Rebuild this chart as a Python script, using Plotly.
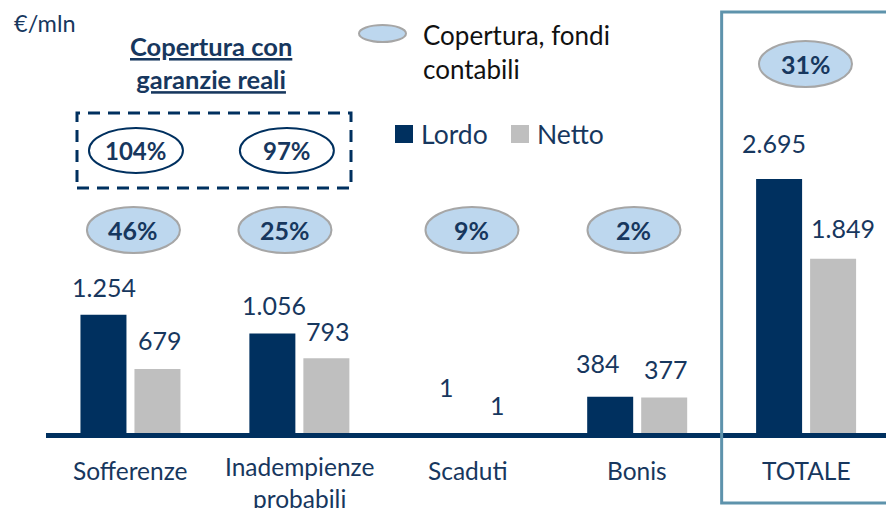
import plotly.graph_objects as go

# ---- data (€/mln) ----
categories = ["Sofferenze", "Inadempienze<br>probabili", "Scaduti", "Bonis", "TOTALE"]
lordo = [1254, 1056, 1, 384, 2695]
netto = [679, 793, 1, 377, 1849]
copertura_fondi = [46, 25, 9, 2, 31]        # % coverage, accounting provisions
copertura_garanzie = [104, 97]              # % coverage incl. real guarantees (first two categories)

# ---- style ----
NAVY = "#00305F"
NAVY_BAR = "rgba(0,48,95,0.999)"
GREY_BAR = "rgba(191,191,191,0.999)"
GREY = "#BFBFBF"
TEXT_NAVY = "#17375E"
OVAL_FILL = "#BDD7EE"
OVAL_LINE = "#A6A6A6"
BOX_LINE = "#5E93AC"
FONT = "Lato"

W, H = 886, 508
ML, MB = 46, 75
PLOT_H = H - MB
XR = [-0.5, 4.473]
YR = [0, 4595]
PPC = (W - ML) / (XR[1] - XR[0])   # pixels per category slot

BAR_PX, GAP_PX = 46, 8
BAR_W = BAR_PX / PPC
OFF_L = -(BAR_PX + GAP_PX / 2) / PPC
OFF_N = (GAP_PX / 2) / PPC


def xp(px):
    return (px - ML) / (W - ML)


def yp(py):
    return (PLOT_H - py) / PLOT_H


def fmt(v):
    return f"{v:,}".replace(",", ".")


def label(**kw):
    base = dict(showarrow=False, xanchor="center", yanchor="middle")
    base.update(kw)
    return base


idx = list(range(len(categories)))

fig = go.Figure()
fig.add_trace(go.Bar(x=idx, y=lordo, width=BAR_W, offset=OFF_L, name="Lordo",
                     marker=dict(color=NAVY_BAR, line_width=0)))
fig.add_trace(go.Bar(x=idx, y=netto, width=BAR_W, offset=OFF_N, name="Netto",
                     marker=dict(color=GREY_BAR, line_width=0)))

annotations = []
shapes = []

# category labels under the axis
cat_y = [470, 482, 470, 470, 470]
for i in idx:
    annotations.append(label(x=i, xref="x", y=yp(cat_y[i]), yref="paper",
                             text=categories[i], align="center",
                             font=dict(family=FONT, size=24.5, color=TEXT_NAVY)))

# value labels above bars (pixel nudges per label)
lordo_nudge = [(1, 28), (1.5, 28), (5, 46), (-12.5, 34), (-5, 36)]
netto_nudge = [(2.5, 29), (1.5, 27), (2, 28), (2, 28), (10, 31)]
for i in idx:
    for vals, off, nudge in ((lordo, OFF_L, lordo_nudge), (netto, OFF_N, netto_nudge)):
        annotations.append(label(
            x=i + off + BAR_W / 2, y=vals[i], xref="x", yref="y",
            xshift=nudge[i][0], yshift=nudge[i][1], text=fmt(vals[i]),
            font=dict(family=FONT, size=25, color=TEXT_NAVY)))

# coverage ovals
oval_dx = [3, -14.4, 3.7, -3.2, -0.6]
oval_y = [230, 230, 230, 230, 64]
for i in idx:
    shapes.append(dict(
        type="circle", xref="x", xsizemode="pixel", xanchor=i,
        x0=oval_dx[i] - 46.5, x1=oval_dx[i] + 46.5,
        yref="paper", ysizemode="pixel", yanchor=yp(oval_y[i]), y0=-23, y1=23,
        fillcolor=OVAL_FILL, line=dict(color=OVAL_LINE, width=2), layer="above"))
    annotations.append(label(
        x=i, xref="x", xshift=oval_dx[i], y=yp(oval_y[i]), yref="paper",
        text=f"<b>{copertura_fondi[i]}%</b>",
        font=dict(family=FONT, size=25, color=TEXT_NAVY)))

# coverage with real guarantees (dashed frame)
g_dx = [5.5, -12.5]
for i, v in enumerate(copertura_garanzie):
    shapes.append(dict(
        type="circle", xref="x", xsizemode="pixel", xanchor=i,
        x0=g_dx[i] - 47, x1=g_dx[i] + 47,
        yref="paper", ysizemode="pixel", yanchor=yp(150.5), y0=-22.5, y1=22.5,
        line=dict(color=NAVY, width=2), layer="above"))
    annotations.append(label(
        x=i, xref="x", xshift=g_dx[i], y=yp(150.5), yref="paper",
        text=f"<b>{v}%</b>",
        font=dict(family=FONT, size=24, color=TEXT_NAVY)))
shapes.append(dict(type="rect", xref="paper", yref="paper",
                   x0=xp(77), x1=xp(351), y0=yp(188), y1=yp(113),
                   line=dict(color=NAVY, width=3, dash="12px,8px")))
annotations.append(label(
    x=xp(211), y=yp(63), xref="paper", yref="paper",
    text="<b><u>Copertura con</u></b><br><b><u>garanzie reali</u></b>",
    align="center", font=dict(family=FONT, size=25.5, color=TEXT_NAVY)))

# TOTALE frame, left edge on the category boundary
shapes.append(dict(type="rect", xref="paper", yref="paper",
                   x0=(3.5 - XR[0]) / (XR[1] - XR[0]), x1=1.05,
                   y0=yp(503), y1=yp(12),
                   line=dict(color=BOX_LINE, width=3), layer="above"))

# unit label
annotations.append(label(x=xp(12), y=yp(23), xref="paper", yref="paper",
                         text="€/mln", xanchor="left",
                         font=dict(family=FONT, size=23.5, color=TEXT_NAVY)))

# legend: coverage oval
shapes.append(dict(type="circle", xref="paper", yref="paper",
                   x0=xp(359), x1=xp(406), y0=yp(42), y1=yp(25),
                   fillcolor=OVAL_FILL, line=dict(color=OVAL_LINE, width=2)))
annotations.append(label(x=xp(421), y=yp(51.5), xref="paper", yref="paper",
                         text="Copertura, fondi<br>contabili",
                         xanchor="left", align="left",
                         font=dict(family=FONT, size=26, color="#111111")))
# legend: series
for (x0, color, name) in ((395, NAVY, "Lordo"), (511, GREY, "Netto")):
    shapes.append(dict(type="rect", xref="paper", yref="paper",
                       x0=xp(x0), x1=xp(x0 + 18), y0=yp(143), y1=yp(125),
                       fillcolor=color, line_width=0))
    annotations.append(label(x=xp(x0 + 24), y=yp(134), xref="paper", yref="paper",
                             text=name, xanchor="left",
                             font=dict(family=FONT, size=26.5, color=TEXT_NAVY)))

fig.update_layout(
    width=W, height=H,
    margin=dict(l=ML, r=0, t=0, b=MB, pad=0),
    paper_bgcolor="white", plot_bgcolor="white",
    showlegend=False,
    barmode="overlay",
    xaxis=dict(range=XR, tickvals=idx, showticklabels=False,
               showline=True, linewidth=5, linecolor=NAVY,
               showgrid=False, zeroline=False, ticks="",
               automargin=False),
    yaxis=dict(range=YR, visible=False, showgrid=False, zeroline=False,
               automargin=False),
    shapes=shapes,
    annotations=annotations,
)

fig.write_html("out.html")
